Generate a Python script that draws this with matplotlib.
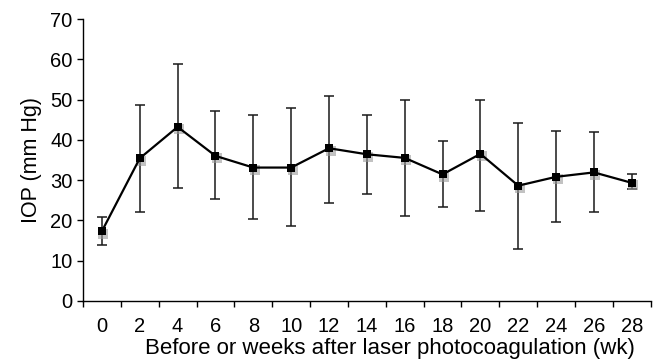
import matplotlib.pyplot as plt
import numpy as np

plt.rcParams['font.family'] = ['Liberation Sans', 'DejaVu Sans']

# =========================
# DATA
# =========================
weeks = ["0", "2", "4", "6", "8", "10", "12", "14", "16", "18", "20", "22", "24", "26", "28"]
iop_mean = [17.3, 35.4, 43.2, 36.0, 33.1, 33.1, 37.9, 36.4, 35.5, 31.4, 36.5, 28.6, 30.8, 31.9, 29.3]
iop_upper = [20.9, 48.7, 58.7, 47.1, 46.1, 48.0, 50.9, 46.1, 49.8, 39.7, 50.0, 44.2, 42.2, 41.9, 31.5]
iop_lower = [13.8, 22.1, 28.1, 25.2, 20.3, 18.7, 24.4, 26.5, 21.0, 23.2, 22.4, 12.8, 19.6, 22.1, 27.7]

y_ticks = [0, 10, 20, 30, 40, 50, 60, 70]

# =========================
# FIGURE
# =========================
fig = plt.figure(figsize=(6.64, 3.62), dpi=100)
ax = fig.add_axes([0.125, 0.169, 0.855, 0.7785])

x = np.arange(len(weeks))
mean = np.array(iop_mean)
yerr = [mean - np.array(iop_lower), np.array(iop_upper) - mean]

ax.errorbar(x, mean, yerr=yerr, fmt="none", ecolor="#1a1a1a",
            elinewidth=1.1, capsize=3.5, capthick=1.1, zorder=2)
# soft grey shadow behind markers
ax.plot(x + 0.04, mean - 0.6, "s", color="#9a9a9a", markersize=6.8,
        markeredgewidth=0, alpha=0.6, zorder=3)
ax.plot(x, mean, "-s", color="black", linewidth=1.6, markersize=6.3,
        markeredgewidth=0, zorder=4)

ax.set_xlim(-0.5, len(weeks) - 0.5)
ax.set_ylim(0, 70)
ax.set_yticks(y_ticks)
ax.set_yticklabels([str(t) for t in y_ticks])

# category axis: ticks on boundaries, labels centred
ax.set_xticks(np.arange(-0.5, len(weeks), 1.0))
ax.set_xticklabels([])
ax.set_xticks(x, minor=True)
ax.set_xticklabels(weeks, minor=True)
ax.tick_params(axis="x", which="major", direction="out", length=4.5, width=1.0)
ax.tick_params(axis="x", which="minor", length=0, pad=12, labelsize=14.5)
ax.tick_params(axis="y", direction="out", length=4.5, width=1.0, labelsize=14.5, pad=3)

for side in ("top", "right"):
    ax.spines[side].set_visible(False)
for side in ("left", "bottom"):
    ax.spines[side].set_linewidth(1.0)

ax.set_xlabel("Before or weeks after laser photocoagulation (wk)", fontsize=16)
ax.xaxis.set_label_coords(0.54, -0.132)
ax.set_ylabel("IOP (mm Hg)", fontsize=15.5, labelpad=6)

fig.savefig("out.png", dpi=100)
